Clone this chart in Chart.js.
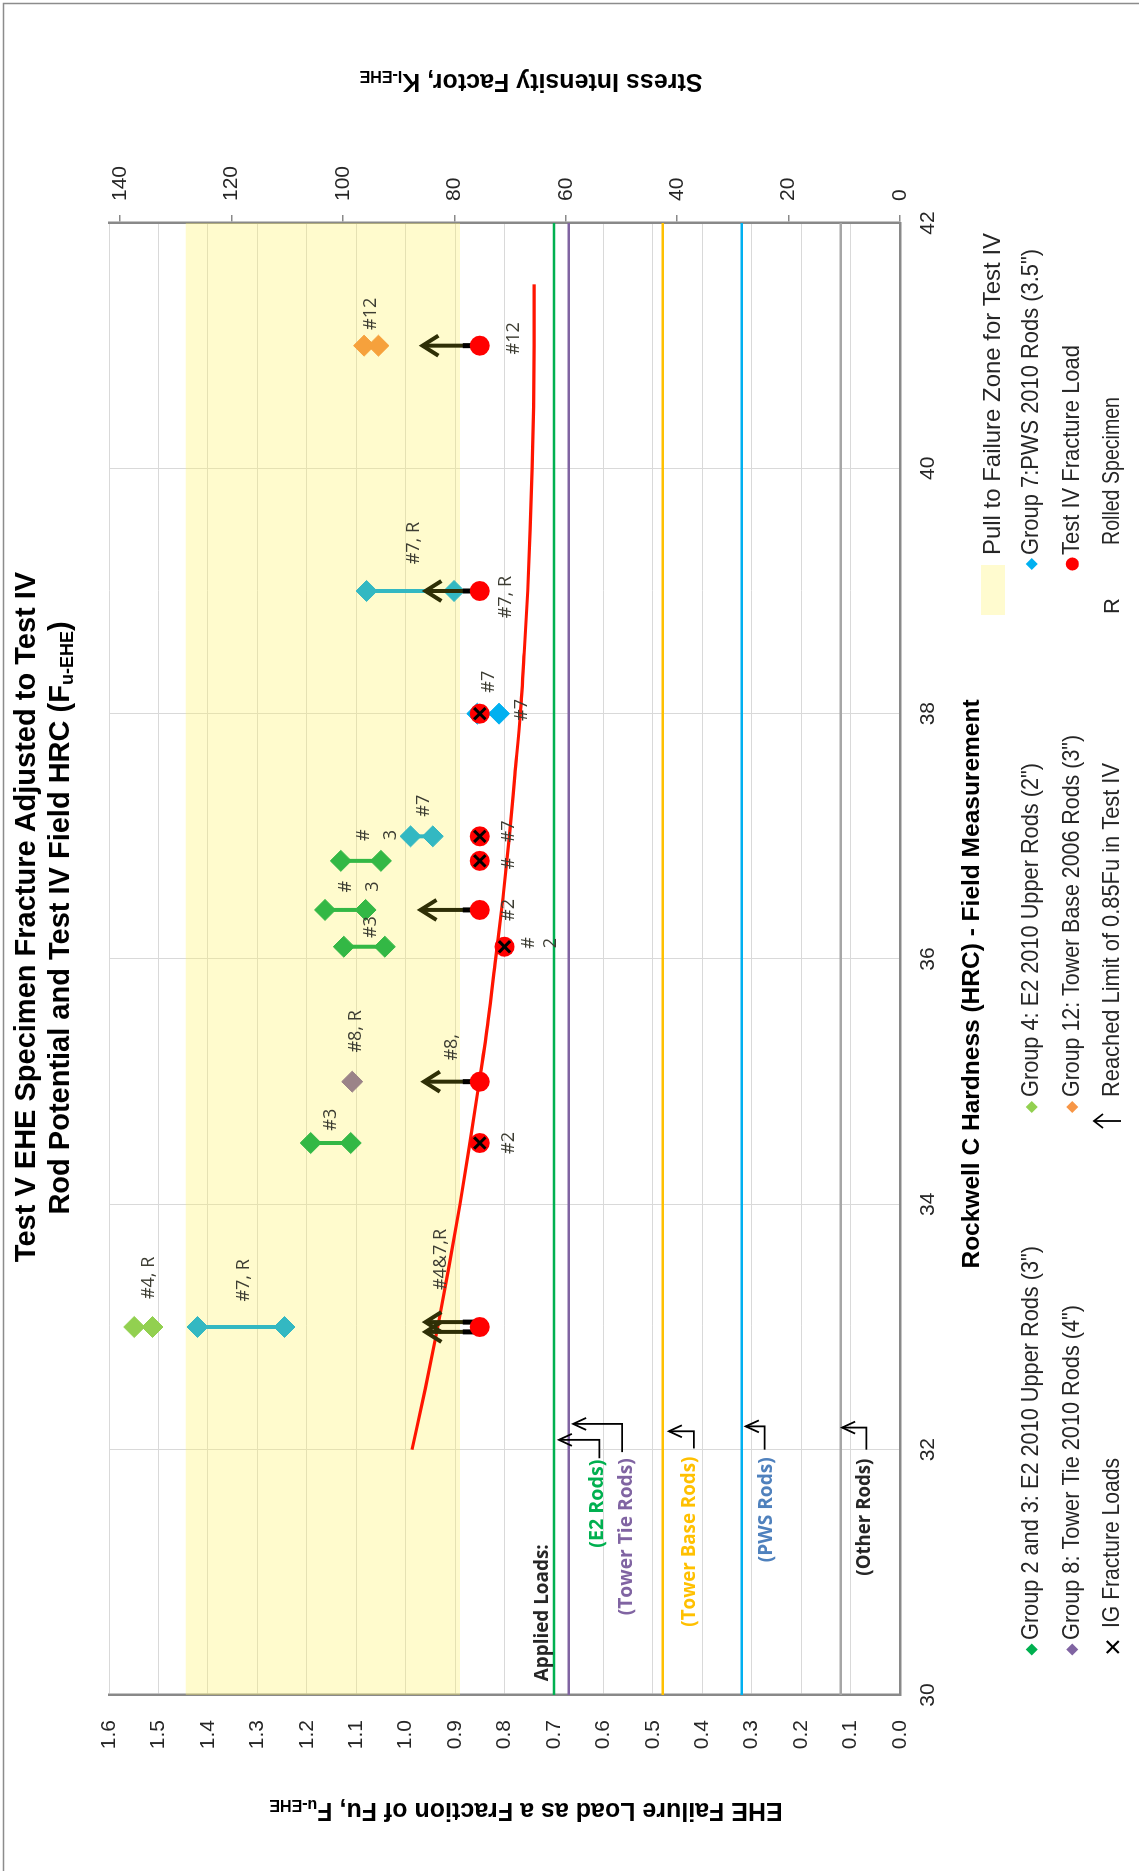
<!DOCTYPE html>
<html>
<head>
<meta charset="utf-8">
<title>Test V EHE Specimen Fracture Adjusted to Test IV Rod Potential</title>
<script src="https://cdn.jsdelivr.net/npm/chart.js@4.4.1/dist/chart.umd.min.js"></script>
<style>
  html, body { margin: 0; padding: 0; background: #fff; width: 1139px; height: 1871px; overflow: hidden; }
  /* the chart is laid out landscape and turned a quarter turn to stand on the page */
  #wrap { position: absolute; left: 0; top: 0; width: 1871px; height: 1139px;
          transform-origin: 0 0; transform: translate(0px, 1871px) rotate(-90deg); }
  canvas { display: block; }
</style>
</head>
<body>
<div id="wrap"><canvas id="chart" width="1871" height="1139"></canvas></div>
<script>
// ---------------- data ----------------
const hrcRange = [30, 42];

// pull to failure zone for Test IV (fraction of Fu)
const failureZoneTop = [1.445, 1.445];
const failureZoneBottom = [0.89, 0.89];

// applied loads, fraction of Fu
const appliedLoadNames = ['(E2 Rods)', '(Tower Tie Rods)', '(Tower Base Rods)', '(PWS Rods)', '(Other Rods)'];
const appliedLoadValues = [0.70, 0.67, 0.48, 0.32, 0.12];

// Test IV fracture-load trend
const trendHRC = [32, 32.5, 33, 33.5, 34, 34.5, 35, 35.5, 36, 36.5, 37, 37.5, 38, 38.5, 39, 39.5, 40, 40.5, 41, 41.5];
const trendValues = [0.987, 0.960, 0.935, 0.912, 0.890, 0.870, 0.851, 0.833, 0.818, 0.803, 0.790, 0.779, 0.768, 0.760, 0.753, 0.748, 0.744, 0.741, 0.740, 0.740];

// Group 2 and 3: E2 2010 upper rods (3")
const g23HRC = [34.5, 36.1, 36.4, 36.8];
const g23High = [1.192, 1.125, 1.163, 1.131];
const g23Low = [1.111, 1.042, 1.081, 1.050];

// Group 4: E2 2010 upper rods (2")
const g4HRC = [33.0];
const g4High = [1.549];
const g4Low = [1.512];

// Group 7: PWS 2010 rods (3.5")
const g7HRC = [33.0, 37.0, 39.0];
const g7High = [1.421, 0.990, 1.079];
const g7Low = [1.245, 0.945, 0.902];
const g7bHRC = [38.0];
const g7bHigh = [0.855];
const g7bLow = [0.811];

// Group 8: tower tie 2010 rods (4")
const g8HRC = [35.0];
const g8Values = [1.108];

// Group 12: tower base 2006 rods (3")
const g12HRC = [41.0];
const g12High = [1.084];
const g12Low = [1.055];

// Test IV fracture loads
const testIVHRC = [33.0, 34.5, 35.0, 36.1, 36.4, 36.8, 37.0, 38.0, 39.0, 41.0];
const testIVValues = [0.85, 0.85, 0.85, 0.80, 0.85, 0.85, 0.85, 0.85, 0.85, 0.85];

// IG fracture loads
const igHRC = [34.5, 36.1, 36.8, 37.0, 38.0];
const igValues = [0.85, 0.80, 0.85, 0.85, 0.85];

// reached limit of 0.85Fu in Test IV
const limitHRC = [32.96, 33.04, 35.0, 36.4, 39.0, 41.0];
const limitFrom = [0.85, 0.85, 0.85, 0.85, 0.85, 0.85];
const limitTo = [0.96, 0.96, 0.963, 0.97, 0.96, 0.966];

// specimen tags
const tagText = ['#12', '#12', '#7, R', '#7, R', '#7', '#7', '#7', '#', '3', '#7', '#', '#', '3', '#3', '#2', '#', '2', '#8, R', '#8,', '#3', '#2', '#4&7,R', '#7, R', '#4, R'];
const tagHRC = [41.26, 41.06, 39.39, 38.95, 38.26, 38.03, 37.25, 37.01, 37.01, 37.04, 36.78, 36.59, 36.59, 36.26, 36.40, 36.13, 36.13, 35.41, 35.28, 34.69, 34.50, 33.55, 33.38, 33.40];
const tagValue = [1.071, 0.781, 0.983, 0.798, 0.832, 0.764, 0.963, 1.084, 1.030, 0.791, 0.791, 1.121, 1.067, 1.071, 0.791, 0.751, 0.707, 1.101, 0.906, 1.152, 0.791, 0.929, 1.327, 1.519];

// applied-load callouts: text position and leader line (HRC / fraction of Fu)
const calloutHRC = [31.56, 31.29, 31.25, 31.51, 31.45];
const calloutValue = [0.612, 0.553, 0.427, 0.270, 0.073];
const leaderStartHRC = [31.93, 31.98, 32.01, 32.00, 32.00];
const leaderCornerHRC = [32.08, 32.21, 32.15, 32.19, 32.18];
const leaderStartValue = [0.608, 0.562, 0.417, 0.274, 0.068];
const leaderTipValue = [0.690, 0.661, 0.4675, 0.312, 0.117];
const appliedHeadHRC = [30.67];
const appliedHeadValue = [0.724];

// tick labels
const stressTicks = [0, 20, 40, 60, 80, 100, 120, 140];

// ---------------- styles ----------------
const loadColors = ['#00B050', '#8064A2', '#FFC000', '#00B0F0', '#A6A6A6'];
const calloutColors = ['#00B050', '#8064A2', '#FFC000', '#4F81BD', '#262626'];
const calloutWidths = [88, 157, 170, 105, 117];
const TAG_FONT = "18px 'Open Sans', 'DejaVu Sans', sans-serif";
const CALLOUT_FONT = "bold 20px 'Open Sans', 'DejaVu Sans', sans-serif";
const SANS = "'Liberation Sans', Arial, sans-serif";

// ---------------- helpers ----------------
const pts = (xs, ys) => xs.map((v, i) => ({ x: v, y: ys[i] }));
function pairs(xs, hi, lo) {
  const out = [];
  xs.forEach((h, i) => { out.push({ x: h, y: hi[i] }, { x: h, y: lo[i] }, { x: h, y: null }); });
  return out;
}

// draws a string; when width is given, the glyphs are squeezed or widened to fill it
function text(ctx, s, x, y, font, color, align, width) {
  ctx.save();
  ctx.font = font;
  ctx.fillStyle = color;
  ctx.textAlign = align || 'center';
  ctx.textBaseline = 'middle';
  ctx.translate(x, y);
  if (width) ctx.scale(width / ctx.measureText(s).width, 1);
  ctx.fillText(s, 0, 0);
  ctx.restore();
}

// text with a trailing subscript, centred on (x, y)
function subText(ctx, main, sub, tail, x, y, size, rot) {
  ctx.save();
  ctx.translate(x, y);
  if (rot) ctx.rotate(rot);
  ctx.fillStyle = '#000';
  ctx.textBaseline = 'alphabetic';
  ctx.textAlign = 'left';
  const f1 = 'bold ' + size + 'px ' + SANS;
  const f2 = 'bold ' + Math.round(size * 0.62) + 'px ' + SANS;
  ctx.font = f1; const w1 = ctx.measureText(main).width; const w3 = ctx.measureText(tail).width;
  ctx.font = f2; const w2 = ctx.measureText(sub).width;
  let cx = -(w1 + w2 + w3) / 2;
  const base = size * 0.36;
  ctx.font = f1; ctx.fillText(main, cx, base); cx += w1;
  ctx.font = f2; ctx.fillText(sub, cx, base + size * 0.12); cx += w2;
  ctx.font = f1; ctx.fillText(tail, cx, base);
  ctx.restore();
}

function chevronUp(ctx, x, y, len, spread) {
  ctx.beginPath();
  ctx.moveTo(x - spread, y + len);
  ctx.lineTo(x, y);
  ctx.lineTo(x + spread, y + len);
  ctx.stroke();
}

function diamond(ctx, x, y, r, color) {
  ctx.beginPath();
  ctx.moveTo(x, y - r); ctx.lineTo(x + r, y); ctx.lineTo(x, y + r); ctx.lineTo(x - r, y);
  ctx.closePath();
  ctx.fillStyle = color; ctx.fill();
}

// arrows from the Test IV loads that reached the 0.85Fu limit
function drawLimitArrows(chart) {
  const { x, y } = chart.scales;
  const c = chart.ctx;
  c.save();
  limitHRC.forEach((h, i) => {
    const px = x.getPixelForValue(h);
    const y0 = y.getPixelForValue(limitFrom[i]);
    const y1 = y.getPixelForValue(limitTo[i]);
    c.lineCap = 'butt';
    c.strokeStyle = '#2f2f06'; c.lineWidth = 4;
    c.beginPath(); c.moveTo(px, y0); c.lineTo(px, y1 + 2); c.stroke();
    c.strokeStyle = '#000'; c.lineWidth = 5;
    c.beginPath(); c.moveTo(px, y0); c.lineTo(px, y0 - 17); c.stroke();
    c.strokeStyle = '#2f2f06'; c.lineWidth = 4; c.lineJoin = 'miter';
    chevronUp(c, px, y1, 16, 10);
  });
  c.restore();
}

function drawTags(chart) {
  const { x, y } = chart.scales;
  const c = chart.ctx;
  tagText.forEach((s, i) => {
    text(c, s, x.getPixelForValue(tagHRC[i]), y.getPixelForValue(tagValue[i]), TAG_FONT, '#3d3d33', 'center');
  });
}

function drawCallouts(chart) {
  const { x, y } = chart.scales;
  const c = chart.ctx;
  text(c, 'Applied Loads:', x.getPixelForValue(appliedHeadHRC[0]), y.getPixelForValue(appliedHeadValue[0]), CALLOUT_FONT, '#262626', 'center', 137);
  appliedLoadNames.forEach((s, i) => {
    text(c, s, x.getPixelForValue(calloutHRC[i]), y.getPixelForValue(calloutValue[i]), CALLOUT_FONT, calloutColors[i], 'center', calloutWidths[i]);
    const xs = x.getPixelForValue(leaderStartHRC[i]);
    const xc = x.getPixelForValue(leaderCornerHRC[i]);
    const ys = y.getPixelForValue(leaderStartValue[i]);
    const yt = y.getPixelForValue(leaderTipValue[i]);
    c.save();
    c.strokeStyle = '#000'; c.lineWidth = 1.8; c.lineJoin = 'miter';
    c.beginPath(); c.moveTo(xs, ys); c.lineTo(xc, ys); c.lineTo(xc, yt); c.stroke();
    chevronUp(c, xc, yt, 13, 6);
    c.restore();
  });
}

function drawFrameText(chart) {
  const c = chart.ctx;
  // title
  text(c, 'Test V EHE Specimen Fracture Adjusted to Test IV', 954, 27, 'bold 29px ' + SANS, '#000', 'center');
  subText(c, 'Rod Potential and Test IV Field HRC (F', 'u-EHE', ')', 953, 59, 29, 0);
  // axis titles
  text(c, 'Rockwell C Hardness (HRC) - Field Measurement', 887, 972, 'bold 24.5px ' + SANS, '#000', 'center');
  subText(c, 'EHE Failure Load as a Fraction of Fu, F', 'u-EHE', '', 59, 526, 25, -Math.PI / 2);
  subText(c, 'Stress Intensity Factor, K', 'I-EHE', '', 1788, 531, 25, -Math.PI / 2);

  // legend
  const LF = '24px ' + SANS;
  const LC = '#262626';
  const r0 = 993.5, r1 = 1031.7, r2 = 1072.3, r3 = 1112.8;
  c.save();
  c.fillStyle = '#FFFBCF'; c.fillRect(1256, 981, 50, 24);
  c.restore();
  text(c, 'Pull to Failure Zone for Test IV', 1316, r0, LF, LC, 'left', 322);
  diamond(c, 221.5, r1, 6, '#00B050');
  text(c, 'Group 2 and 3: E2 2010 Upper Rods (3")', 231, r1, LF, LC, 'left', 394);
  diamond(c, 764, r1, 6, '#92D050');
  text(c, 'Group 4: E2 2010 Upper Rods (2")', 774, r1, LF, LC, 'left', 334);
  diamond(c, 1307, r1, 6, '#00B0F0');
  text(c, 'Group 7:PWS 2010 Rods (3.5")', 1316, r1, LF, LC, 'left', 306);
  diamond(c, 221.5, r2, 6, '#8064A2');
  text(c, 'Group 8: Tower Tie 2010 Rods (4")', 231, r2, LF, LC, 'left', 335);
  diamond(c, 764, r2, 6, '#F79646');
  text(c, 'Group 12: Tower Base 2006 Rods (3")', 774, r2, LF, LC, 'left', 362);
  c.save();
  c.fillStyle = '#FF0000'; c.beginPath(); c.arc(1307, r2, 6.5, 0, Math.PI * 2); c.fill();
  c.restore();
  text(c, 'Test IV Fracture Load', 1316, r2, LF, LC, 'left', 210);
  c.save();
  c.strokeStyle = '#000'; c.lineWidth = 2.2;
  c.beginPath(); c.moveTo(218, r3 - 6); c.lineTo(230, r3 + 6); c.moveTo(230, r3 - 6); c.lineTo(218, r3 + 6); c.stroke();
  c.restore();
  text(c, 'IG Fracture Loads', 243, r3, LF, LC, 'left', 170);
  c.save();
  c.strokeStyle = '#000'; c.lineWidth = 1.8;
  c.beginPath(); c.moveTo(750, 1121); c.lineTo(750, 1094); c.stroke();
  chevronUp(c, 750, 1094, 9, 7);
  c.restore();
  text(c, 'Reached Limit of 0.85Fu in Test IV', 774, r3, LF, LC, 'left', 334);
  text(c, 'R', 1265, r3, '22px ' + SANS, LC, 'center');
  text(c, 'Rolled Specimen', 1326, r3, LF, LC, 'left', 148);

  // outer border
  c.save();
  c.strokeStyle = '#8c8c8c'; c.lineWidth = 1.5;
  c.beginPath(); c.moveTo(0, 3.5); c.lineTo(1867.5, 3.5); c.lineTo(1867.5, 1139); c.stroke();
  c.restore();
}

const overlay = {
  id: 'overlay',
  beforeDatasetDraw(chart, args) {
    if (chart.data.datasets[args.index].key === 'testIV') drawLimitArrows(chart);
  },
  afterDatasetsDraw(chart) {
    drawTags(chart);
    drawCallouts(chart);
  },
  afterDraw(chart) {
    drawFrameText(chart);
  }
};

// ---------------- chart ----------------
const groupLine = (key, data, color, order) => ({
  key, data, showLine: true, spanGaps: false,
  borderColor: color, borderWidth: 4, backgroundColor: color,
  pointStyle: 'rectRot', pointRadius: 10.5, pointBorderWidth: 1,
  pointBorderColor: color, pointBackgroundColor: color, order
});

const datasets = [
  { key: 'zone', type: 'line', data: pts(hrcRange, failureZoneTop),
    fill: { value: failureZoneBottom[0] }, backgroundColor: 'rgba(255,242,102,0.33)',
    borderWidth: 0, pointRadius: 0, order: 100 },
  ...appliedLoadValues.map((v, i) => ({
    key: 'load' + i, type: 'line', data: pts(hrcRange, [v, v]),
    borderColor: loadColors[i], borderWidth: 2.5, pointRadius: 0, fill: false, order: 90
  })),
  { key: 'trend', type: 'line', data: pts(trendHRC, trendValues),
    borderColor: '#FF1500', borderWidth: 3.2, pointRadius: 0, fill: false,
    cubicInterpolationMode: 'monotone', order: 80 },
  groupLine('g23', pairs(g23HRC, g23High, g23Low), '#33B845', 50),
  groupLine('g4', pairs(g4HRC, g4High, g4Low), '#92D050', 50),
  groupLine('g7', pairs(g7HRC, g7High, g7Low), '#33B8C2', 50),
  groupLine('g7b', pairs(g7bHRC, g7bHigh, g7bLow), '#00B0F0', 50),
  groupLine('g8', pts(g8HRC, g8Values), '#9B8388', 50),
  groupLine('g12', pairs(g12HRC, g12High, g12Low), '#F6A13C', 50),
  { key: 'testIV', data: pts(testIVHRC, testIVValues), pointStyle: 'circle', pointRadius: 10,
    backgroundColor: '#FF0000', borderColor: '#FF0000', pointBorderWidth: 0, order: 10 },
  { key: 'ig', data: pts(igHRC, igValues), pointStyle: 'crossRot', pointRadius: 8,
    borderColor: '#000', pointBorderColor: '#000', pointBorderWidth: 3, order: 5 }
];

new Chart(document.getElementById('chart'), {
  type: 'scatter',
  data: { datasets },
  options: {
    responsive: false,
    animation: false,
    devicePixelRatio: 1,
    events: [],
    layout: { padding: { top: 109, left: 0, right: 0, bottom: 0 } },
    plugins: { legend: { display: false }, tooltip: { enabled: false }, title: { display: false } },
    scales: {
      x: {
        type: 'linear', position: 'bottom', min: hrcRange[0], max: hrcRange[1],
        ticks: { stepSize: 2, color: '#262626', font: { size: 21, family: SANS }, padding: 16, maxRotation: 0 },
        grid: { color: '#d9d9d9', lineWidth: 1, drawTicks: false },
        border: { color: '#898989', width: 2.5 },
        afterFit(s) { s.height = 239; }
      },
      y: {
        type: 'linear', position: 'left', min: 0, max: 1.6,
        ticks: { stepSize: 0.1, color: '#262626', font: { size: 21, family: SANS }, padding: 25,
                 callback: v => Number(v).toFixed(1) },
        grid: { color: '#d9d9d9', lineWidth: 1, drawTicks: false },
        border: { color: '#898989', width: 2.5 },
        afterFit(s) { s.width = 176; }
      },
      y2: {
        type: 'linear', position: 'right', min: 0, max: 142,
        afterBuildTicks(s) { s.ticks = stressTicks.map(v => ({ value: v })); },
        ticks: { color: '#262626', font: { size: 21, family: SANS }, padding: 14 },
        grid: { drawOnChartArea: false, drawTicks: true, tickLength: 8, color: '#898989', lineWidth: 1.5 },
        border: { color: '#898989', width: 2.5 },
        afterFit(s) { s.width = 223; }
      }
    }
  },
  plugins: [overlay]
});
</script>
</body>
</html>
